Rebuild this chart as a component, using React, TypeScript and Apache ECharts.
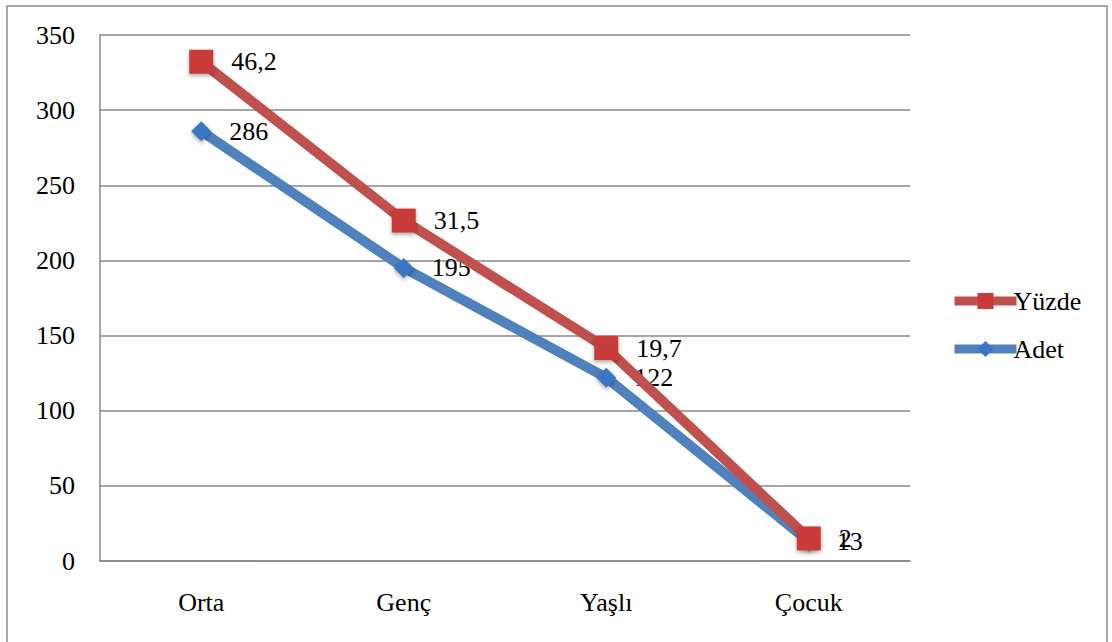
import React, { useEffect, useRef } from "react";
import * as echarts from "echarts";

const categories = ["Orta", "Genç", "Yaşlı", "Çocuk"];
const adet = [286, 195, 122, 13];
const yuzde = [46.2, 31.5, 19.7, 2];
const yTicks = { min: 0, max: 350, interval: 50 };

const FONT = "Times New Roman, Liberation Serif, DejaVu Serif, serif";

export default function App() {
  const ref = useRef<HTMLDivElement>(null);
  useEffect(() => {
    if (!ref.current) return;
    const chart = echarts.init(ref.current, undefined, { renderer: "svg" });
    const labelStyle = {
      show: true,
      position: "right" as const,
      distance: 18,
      fontFamily: FONT,
      fontSize: 26,
      color: "#000",
      formatter: (p: any) => String(p.value).replace(".", ","),
    };
    chart.setOption({
      animation: false,
      backgroundColor: "#fff",
      textStyle: { fontFamily: FONT },
      graphic: [
        {
          type: "rect",
          shape: { x: 7, y: 6, width: 1100, height: 660 },
          style: { fill: "none", stroke: "#8a8a8a", lineWidth: 1.5 },
          silent: true,
        },
      ],
      grid: { left: 100, top: 35, right: 202, bottom: 81, containLabel: false },
      legend: {
        orient: "vertical",
        left: 945,
        top: 283,
        itemWidth: 62,
        itemHeight: 20,
        itemGap: 22,
        data: ["Yüzde", "Adet"],
        lineStyle: { width: 9 },
        textStyle: { fontFamily: FONT, fontSize: 26, color: "#000", padding: [0, 0, 0, -8] },
      },
      xAxis: {
        type: "category",
        data: categories,
        boundaryGap: true,
        axisLine: { lineStyle: { color: "#888", width: 1.5 } },
        axisTick: { show: false },
        axisLabel: { fontFamily: FONT, fontSize: 26, color: "#000", margin: 28 },
      },
      yAxis: {
        type: "value",
        min: yTicks.min,
        max: yTicks.max,
        interval: yTicks.interval,
        axisLine: { show: true, lineStyle: { color: "#888", width: 1.5 } },
        axisTick: { show: false },
        splitLine: { lineStyle: { color: "#888", width: 1.5 } },
        axisLabel: { fontFamily: FONT, fontSize: 26, color: "#000", margin: 25 },
      },
      series: [
        {
          name: "Adet",
          type: "line",
          stack: "total",
          data: adet,
          symbol: "diamond",
          symbolSize: 20,
          lineStyle: { color: "#4F81BD", width: 10 },
          itemStyle: {
            color: "#3b76c4",
            shadowColor: "rgba(0,0,0,0.35)",
            shadowBlur: 4,
            shadowOffsetY: 2,
          },
          label: labelStyle,
          z: 2,
        },
        {
          name: "Yüzde",
          type: "line",
          stack: "total",
          data: yuzde,
          symbol: "rect",
          symbolSize: 24,
          lineStyle: { color: "#C0504D", width: 10 },
          itemStyle: {
            color: "#c93b38",
            shadowColor: "rgba(0,0,0,0.35)",
            shadowBlur: 4,
            shadowOffsetY: 2,
          },
          label: labelStyle,
          z: 3,
        },
      ],
    });
    return () => chart.dispose();
  }, []);
  return (
    <div
      ref={ref}
      style={{ position: "fixed", left: 0, top: 0, width: 1112, height: 642 }}
    />
  );
}
